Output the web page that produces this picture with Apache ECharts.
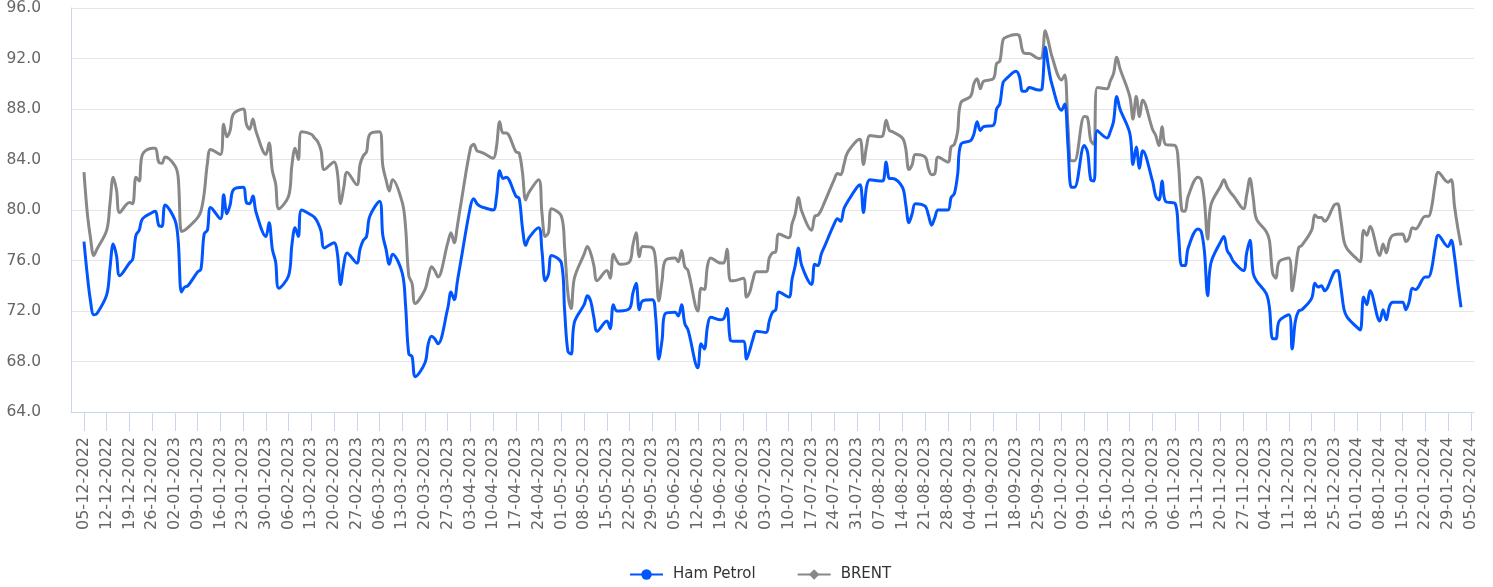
<!DOCTYPE html>
<html><head><meta charset="utf-8">
<script src="https://cdn.jsdelivr.net/npm/echarts@6/dist/echarts.min.js"></script>
<style>html,body{margin:0;padding:0;background:#fff}#chart{width:1493px;height:587px}</style>
</head><body><div id="chart"></div>
<script>
// Axis span (calendar days) and first data day
const axisStart = [2022, 12, 1];
const axisEnd = [2024, 2, 6];
const dataStart = [2022, 12, 5];

// Y axis ticks
const yMin = 64, yMax = 96, yStep = 4;

// Weekday (Mon-Fri) closing values, one row per week starting 05-12-2022
const hamPetrol = [
  77.5, 74.9, 72.8, 71.7, 71.8,
  73.3, 75.4, 77.3, 76.4, 74.8,
  75.8, 76.1, 78.0, 78.4, 79.3,
  79.8, 79.9, 78.8, 78.7, 80.4,
  79.2, 77.6, 73.5, 73.9, 74.0,
  75.1, 75.3, 78.1, 78.4, 80.2,
  79.3, 81.2, 79.7, 80.4, 81.6,
  81.8, 80.6, 80.5, 81.1, 79.8,
  77.9, 79.0, 76.9, 75.9, 73.8,
  74.8, 77.2, 78.6, 77.9, 80.0,
  79.6, 79.4, 79.0, 78.3, 77.0,
  77.4, 76.6, 74.1, 75.7, 76.6,
  75.8, 76.9, 77.6, 77.9, 79.5,
  80.7, 78.0, 76.9, 75.7, 76.5,
  75.0, 72.5, 68.6, 68.4, 66.8,
  67.9, 69.4, 70.0, 69.8, 69.4,
  72.2, 73.5, 72.9, 74.4, 75.9,
  80.3, 80.9, 80.5, 80.3, 80.2,
  80.0, 81.0, 83.1, 82.5, 82.6,
  81.1, 80.9, 78.6, 77.2, 77.8,
  78.6, 76.8, 74.4, 74.9, 76.4,
  75.8, 72.0, 68.8, 68.6, 71.1,
  72.5, 73.2, 72.8, 71.5, 70.4,
  71.2, 70.6, 72.5, 72.0, 72.0,
  72.2, 73.4, 74.2, 72.1, 72.8,
  72.9, 71.6, 68.2, 69.7, 71.8,
  71.9, 71.6, 72.5, 71.0, 70.5,
  67.5, 69.4, 69.0, 70.8, 71.5,
  71.3, 71.4, 72.2, 69.7, 69.6,
  69.6, 68.2, 68.9, 69.8, 70.4,
  70.3, 71.2, 71.9, 72.1, 73.5,
  73.1, 74.5, 75.6, 77.0, 75.6,
  74.1, 75.7, 75.6, 76.5, 77.1,
  78.9, 79.3, 79.1, 80.1, 80.6,
  81.8, 82.0, 79.8, 81.9, 82.4,
  82.3, 82.3, 83.8, 82.5, 82.5,
  81.8, 80.5, 79.0, 79.7, 80.5,
  80.3, 79.6, 78.8, 79.4, 80.0,
  80.0, 81.0, 81.3, 82.8, 85.2,
  85.5, 86.0, 87.0, 86.3, 86.6,
  86.7, 88.0, 88.4, 90.1, 90.4,
  91.0, 90.6, 89.4, 89.4, 89.7,
  89.5, 89.6, 92.9, 91.3, 90.0,
  87.9, 88.4, 85.0, 81.8, 81.8,
  85.1, 84.6, 82.4, 82.3, 86.3,
  85.7, 86.2, 87.0, 89.0, 88.0,
  86.1, 83.6, 85.0, 83.3, 84.7,
  82.3, 81.1, 80.8, 82.3, 80.7,
  80.5, 78.1, 75.6, 75.6, 77.0,
  78.5, 78.3, 76.7, 73.2, 75.8,
  77.5, 77.9, 76.8, 76.4, 75.9,
  75.2, 76.6, 77.6, 75.0, 74.4,
  73.4, 72.3, 69.8, 69.8, 71.2,
  71.7, 69.0, 71.2, 72.0, 72.1,
  73.0, 74.2, 73.9, 74.0, 73.6,
  75.1, 75.2, 73.9, 72.1, 71.5,
  70.7, 70.5, 73.1, 72.5, 73.6,
  71.2, 72.1, 71.3, 72.4, 72.7,
  72.7, 72.1, 72.7, 73.8, 73.7,
  74.7, 74.7, 75.4, 77.0, 78.0,
  77.1, 77.6, 76.3, 74.2, 72.3
];

const brent = [
  83.0, 79.8, 77.8, 76.4, 76.9,
  78.4, 80.5, 82.6, 81.6, 79.8,
  80.6, 80.5, 82.6, 82.3, 84.4,
  84.9, 84.9, 83.8, 83.7, 84.2,
  83.5, 82.6, 78.3, 78.4, 78.6,
  79.4, 79.9, 81.3, 83.7, 84.8,
  84.4, 86.8, 85.8, 86.3, 87.6,
  88.0, 86.8, 86.4, 87.2, 86.2,
  84.4, 85.3, 83.1, 82.1, 80.1,
  81.1, 83.5, 84.9, 84.0, 86.2,
  86.0, 85.7, 85.4, 84.7, 83.2,
  83.8, 83.0, 80.5, 81.8, 83.0,
  82.0, 83.6, 84.3, 84.6, 86.0,
  86.2, 83.5, 82.4, 81.5, 82.4,
  80.6, 78.7, 74.8, 74.2, 72.6,
  73.7, 74.7, 75.5, 75.2, 74.7,
  77.4, 78.2, 77.4, 78.8, 80.4,
  84.9, 85.2, 84.7, 84.6, 84.5,
  84.1, 85.0, 87.0, 86.1, 86.1,
  84.6, 84.5, 83.0, 80.8, 81.4,
  82.4, 79.8, 77.9, 78.2, 80.1,
  79.5, 77.0, 73.4, 72.2, 74.6,
  76.5, 77.1, 76.6, 75.6, 74.4,
  75.2, 74.6, 76.5, 76.0, 75.7,
  75.9, 77.2, 78.2, 76.3, 77.1,
  77.0, 76.0, 72.8, 74.4, 76.0,
  76.2, 75.9, 76.8, 75.5, 75.2,
  72.0, 73.8, 73.7, 75.6, 76.2,
  75.8, 75.8, 76.9, 74.4, 74.4,
  74.6, 73.1, 73.5, 74.5, 75.1,
  75.1, 76.2, 76.6, 76.7, 78.1,
  77.8, 78.9, 79.7, 81.0, 79.9,
  78.4, 79.5, 79.6, 80.0, 80.6,
  82.4, 82.9, 82.8, 83.6, 84.5,
  85.5, 85.6, 83.6, 85.1, 85.9,
  85.8, 85.9, 87.1, 86.3, 86.2,
  85.7, 84.9, 83.2, 83.6, 84.4,
  84.2, 83.3, 82.8, 82.9, 84.2,
  83.8, 85.0, 85.2, 86.2, 88.5,
  89.0, 90.0, 90.4, 89.6, 90.2,
  90.4, 91.6, 91.8, 93.5, 93.7,
  93.9, 93.8, 92.6, 92.4, 92.4,
  92.0, 92.1, 94.2, 93.3, 92.2,
  90.3, 90.7, 86.5, 83.9, 83.9,
  87.4, 87.3, 85.5, 85.2, 89.7,
  89.6, 90.2, 90.8, 92.1, 91.2,
  89.0, 87.2, 89.0, 87.4, 88.7,
  86.4, 85.9, 85.1, 86.6, 85.2,
  85.1, 83.6, 80.0, 79.9, 81.1,
  82.6, 82.4, 80.7, 77.7, 80.4,
  81.9, 82.4, 81.8, 81.4, 81.1,
  80.1, 81.2, 82.5, 81.0, 79.3,
  78.3, 77.6, 75.0, 74.6, 75.9,
  76.2, 73.6, 75.2, 77.0, 77.2,
  78.4, 79.6, 79.4, 79.4, 79.1,
  80.4, 80.5, 79.2, 77.5, 76.9,
  76.1, 75.9, 78.4, 78.0, 78.7,
  76.4, 77.3, 76.6, 77.6, 78.0,
  78.1, 77.5, 77.8, 78.6, 78.5,
  79.5, 79.5, 80.3, 82.0, 83.0,
  82.2, 82.4, 80.3, 78.6, 77.2
];

// ---- build calendar categories (weekdays carry values, weekends empty) ----
const DAY = 86400000;
const toUTC = a => Date.UTC(a[0], a[1] - 1, a[2]);
const pad = n => String(n).padStart(2, '0');
const categories = [], isMonday = [], hpData = [], brData = [];
let k = 0;
for (let t = toUTC(axisStart); t <= toUTC(axisEnd); t += DAY) {
  const d = new Date(t);
  const wd = d.getUTCDay();
  categories.push(pad(d.getUTCDate()) + '-' + pad(d.getUTCMonth() + 1) + '-' + d.getUTCFullYear());
  isMonday.push(wd === 1);
  if (t >= toUTC(dataStart) && wd >= 1 && wd <= 5 && k < hamPetrol.length) {
    hpData.push(hamPetrol[k]); brData.push(brent[k]); k++;
  } else { hpData.push(null); brData.push(null); }
}
const mondayOnly = (i) => isMonday[i];

const FONT = 'DejaVu Sans';
const chart = echarts.init(document.getElementById('chart'), null, {renderer: 'canvas'});
chart.setOption({
  animation: false,
  backgroundColor: '#ffffff',
  grid: {left: 71, right: 19, top: 7, bottom: 175},
  legend: {
    data: ['Ham Petrol', 'BRENT'],
    left: 624, top: 562,
    itemWidth: 33, itemHeight: 13, itemGap: 41,
    textStyle: {color: '#333333', fontSize: 15, fontFamily: FONT, padding: [0, 0, 0, 5]}
  },
  xAxis: {
    type: 'category',
    data: categories,
    boundaryGap: false,
    axisLine: {show: true, lineStyle: {color: '#ccd6eb', width: 1}},
    axisTick: {show: true, interval: mondayOnly, length: 19, lineStyle: {color: '#ccd6eb', width: 1}},
    axisLabel: {interval: mondayOnly, rotate: 90, margin: 25, color: '#666666', fontSize: 16, fontFamily: FONT},
    splitLine: {show: false}
  },
  yAxis: {
    type: 'value',
    min: yMin, max: yMax, interval: yStep,
    axisLine: {show: true, lineStyle: {color: '#ccd6eb', width: 1}},
    axisTick: {show: false},
    axisLabel: {formatter: v => v.toFixed(1), color: '#666666', fontSize: 15.5, fontFamily: FONT, margin: 30},
    splitLine: {show: true, lineStyle: {color: '#e6e6e6', width: 1}}
  },
  series: [
    {
      name: 'Ham Petrol', type: 'line', data: hpData, connectNulls: true,
      smooth: 0.35, showSymbol: false, symbol: 'circle', z: 3,
      lineStyle: {width: 3, color: '#0055ff'}, itemStyle: {color: '#0055ff'}
    },
    {
      name: 'BRENT', type: 'line', data: brData, connectNulls: true,
      smooth: 0.35, showSymbol: false, symbol: 'diamond', z: 2,
      lineStyle: {width: 3, color: '#888888'}, itemStyle: {color: '#888888'}
    }
  ]
});
</script>
</body></html>
